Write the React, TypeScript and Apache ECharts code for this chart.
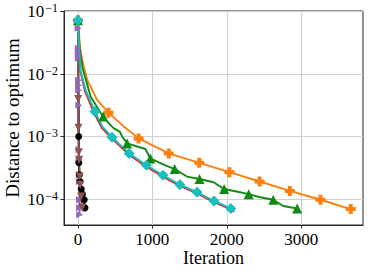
import React, { useEffect, useRef } from "react";
import * as echarts from "echarts";

// x ticks and y tick decades
const xTicks = [0, 1000, 2000, 3000];
const yDecades = [-4, -3, -2, -1];

// Orange (filled plus markers)
const orangeIter = [0, 30, 59, 126, 260, 410, 616, 815, 1220, 1630, 2035, 2440, 2847, 3258, 3664];
const orangeDist = [7.19e-2, 2.51e-2, 1.66e-2, 7.94e-3, 3.8e-3, 2.4e-3, 1.45e-3, 9.33e-4, 5.37e-4, 3.8e-4, 2.69e-4, 1.91e-4, 1.35e-4, 9.77e-5, 6.92e-5];
const orangeMarks = [0, 5, 7, 8, 9, 10, 11, 12, 13, 14];

// Green (triangle markers)
const greenIter = [0, 20, 59, 170, 304, 340, 415, 482, 562, 594, 661, 906, 973, 1151, 1300, 1464, 1633, 1821, 1964, 2130, 2294, 2446, 2624, 2758, 2945];
const greenDist = [7.19e-2, 2.82e-2, 1.29e-2, 4.37e-3, 2.4e-3, 2.09e-3, 1.62e-3, 1.35e-3, 1.2e-3, 1.0e-3, 7.76e-4, 6.31e-4, 4.47e-4, 3.55e-4, 3.02e-4, 2.29e-4, 2.09e-4, 1.86e-4, 1.45e-4, 1.32e-4, 1.2e-4, 1.07e-4, 9.77e-5, 7.76e-5, 7.08e-5];
const greenMarks = [0, 5, 10, 12, 14, 16, 18, 20, 22, 24];

// Red (line under cyan)
const redIter = [0, 12, 30, 95, 220, 320, 455, 685, 915, 1140, 1370, 1600, 1830, 2060, 2100];
const redDist = [7.19e-2, 2.51e-2, 1.15e-2, 5.25e-3, 2.34e-3, 1.38e-3, 9.33e-4, 5.13e-4, 3.31e-4, 2.29e-4, 1.62e-4, 1.23e-4, 8.91e-5, 6.76e-5, 6.31e-5];

// Cyan (diamond markers)
const cyanIter = [0, 15, 36, 103, 228, 326, 458, 688, 920, 1143, 1370, 1600, 1828, 2054];
const cyanDist = [7.19e-2, 2.51e-2, 1.15e-2, 5.5e-3, 2.51e-3, 1.45e-3, 9.77e-4, 5.37e-4, 3.47e-4, 2.4e-4, 1.7e-4, 1.29e-4, 9.33e-5, 7.08e-5];
const cyanMarks = [0, 4, 6, 7, 8, 9, 10, 11, 12, 13];

// Purple (right-pointing triangles)
const purpleIter = [0, 2, 4, 5, 6, 8, 9, 10, 12, 15, 16, 18, 19, 21, 22, 24];
const purpleDist = [7.19e-2, 5.37e-2, 2.57e-2, 2.14e-2, 1.78e-2, 7.94e-3, 6.61e-3, 5.5e-3, 3.16e-3, 6.17e-4, 4.27e-4, 2.45e-4, 1.91e-4, 9.77e-5, 7.24e-5, 5.62e-5];
const purpleMarks = [1, 2, 3, 4, 5, 6, 7, 8, 9, 10, 11, 12, 13, 14, 15];

// Black (circles)
const blackIter = [0, 6, 10, 12, 20, 30, 45, 60, 85, 95];
const blackDist = [7.19e-2, 3.5e-3, 1.0e-3, 3.8e-4, 2.45e-4, 1.91e-4, 1.45e-4, 1.2e-4, 9.77e-5, 7.24e-5];
const blackMarks = [2, 3, 4, 5, 6, 7, 8, 9];

// Brown (down triangles)
const brownIter = [0, 3, 6, 12, 16, 24, 32, 42, 56];
const brownDist = [7.19e-2, 3.98e-3, 1.38e-3, 5.62e-4, 4.27e-4, 2.29e-4, 1.7e-4, 1.1e-4, 7.24e-5];
const brownMarks = [1, 2, 3, 4, 5, 6, 7, 8];

const PLUS = "path://M0.3,0H0.7V0.3H1V0.7H0.7V1H0.3V0.7H0V0.3H0.3Z";

function build(
  name: string,
  iters: number[],
  dists: number[],
  marks: number[],
  color: string,
  symbol: string,
  size: number,
  rotate = 0
) {
  const markSet = new Set(marks);
  return {
    name,
    type: "line",
    data: iters.map((x, i) => ({
      value: [x, Math.log10(dists[i])],
      symbol: markSet.has(i) ? symbol : "none",
    })),
    showSymbol: true,
    showAllSymbol: true,
    symbolSize: size,
    symbolRotate: rotate,
    lineStyle: { color, width: 1.9 },
    itemStyle: { color, borderWidth: 0 },
    emphasis: { disabled: true },
    silent: true,
  };
}

const FONT = "Liberation Serif";
const sup: Record<number, string> = { [-1]: "−1", [-2]: "−2", [-3]: "−3", [-4]: "−4" };

export default function App() {
  const ref = useRef<HTMLDivElement>(null);
  useEffect(() => {
    if (!ref.current) return;
    const chart = echarts.init(ref.current, undefined, { renderer: "svg" });
    chart.setOption({
      animation: false,
      grid: {
        left: 64,
        right: 8,
        top: 11,
        bottom: 47,
        show: true,
        borderColor: "#262626",
        borderWidth: 1,
        backgroundColor: "transparent",
        outerBoundsMode: "none",
        containLabel: false,
      },
      xAxis: {
        type: "value",
        min: -187,
        max: 3829,
        name: "Iteration",
        nameLocation: "middle",
        nameGap: 24,
        nameMoveOverlap: false,
        nameTextStyle: { fontFamily: FONT, fontSize: 18, color: "#000" },
        axisLine: { show: true, onZero: false, lineStyle: { color: "#262626", width: 1 } },
        axisTick: { show: true, length: 3.5, customValues: xTicks, lineStyle: { color: "#262626" } },
        axisLabel: {
          customValues: xTicks,
          formatter: (v: number) => String(v),
          fontFamily: FONT,
          fontSize: 17,
          color: "#000",
          margin: 6,
        },
        splitLine: { show: true, lineStyle: { color: "#d0d0d0", width: 1.2 } },
      },
      yAxis: {
        type: "value",
        min: -4.414,
        max: -0.995,
        name: "Distance to optimum",
        nameLocation: "middle",
        nameGap: 42,
        nameMoveOverlap: false,
        nameTextStyle: { fontFamily: FONT, fontSize: 19, color: "#000" },
        axisLine: { show: true, onZero: false, lineStyle: { color: "#262626", width: 1 } },
        axisTick: { show: true, length: 3.5, customValues: yDecades, lineStyle: { color: "#262626" } },
        axisLabel: {
          customValues: yDecades,
          margin: 6,
          formatter: (v: number) => `{b|10}{s|${sup[Math.round(v)] ?? ""}}`,
          rich: {
            b: { fontFamily: FONT, fontSize: 17, color: "#000", verticalAlign: "bottom", lineHeight: 18 },
            s: { fontFamily: FONT, fontSize: 12, color: "#000", verticalAlign: "top", lineHeight: 18, padding: [0, 0, 0, 1] },
          },
        },
        splitLine: { show: true, lineStyle: { color: "#d0d0d0", width: 1.2 } },
      },
      series: [
        build("orange", orangeIter, orangeDist, orangeMarks, "#ff7f0e", PLUS, 10),
        build("green", greenIter, greenDist, greenMarks, "#128a12", "triangle", 10),
        build("red", redIter, redDist, [], "#ee2020", "circle", 4),
        build("purple", purpleIter, purpleDist, purpleMarks, "#9467bd", "triangle", 7, -90),
        build("black", blackIter, blackDist, blackMarks, "#000000", "circle", 7),
        build("brown", brownIter, brownDist, brownMarks, "#8c564b", "triangle", 8, 180),
        build("cyan", cyanIter, cyanDist, cyanMarks, "#17bfbf", "diamond", 11),
      ],
    });
    return () => chart.dispose();
  }, []);
  return <div ref={ref} style={{ width: 371, height: 272, position: "absolute", left: 0, top: 0 }} />;
}
